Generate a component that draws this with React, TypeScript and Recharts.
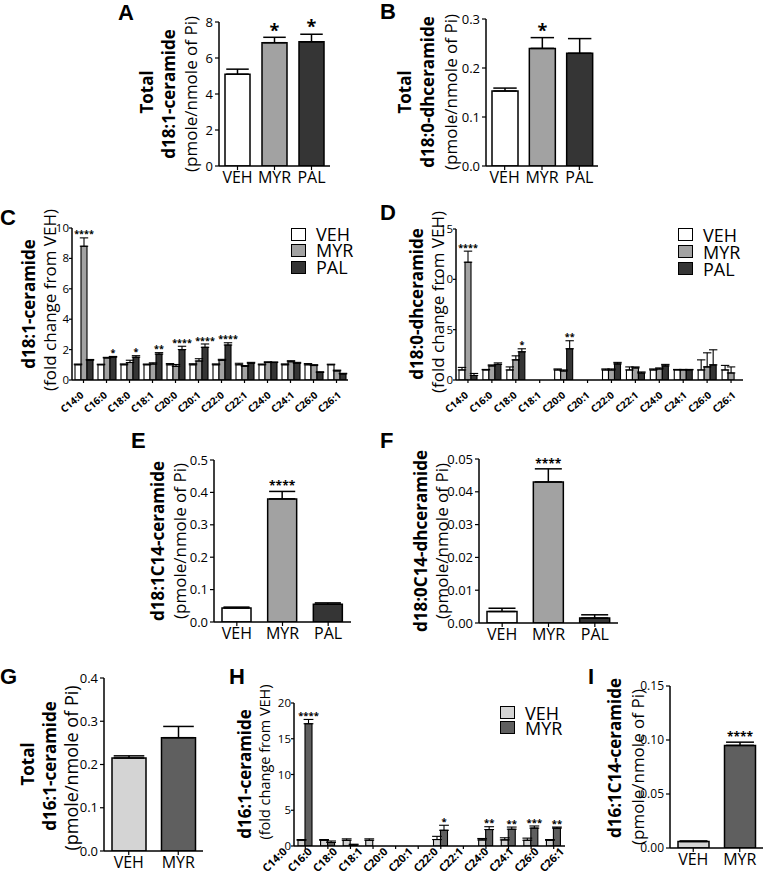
import React from "react";
import { BarChart, Bar, XAxis, YAxis, ErrorBar, LabelList, Cell } from "recharts";

const FONT = '"Open Sans", "DejaVu Sans", sans-serif';

const GROUPS3 = ["VEH", "MYR", "PAL"];
const GROUPS2 = ["VEH", "MYR"];
const CHAINS = ["C14:0", "C16:0", "C18:0", "C18:1", "C20:0", "C20:1", "C22:0", "C22:1", "C24:0", "C24:1", "C26:0", "C26:1"];

const COL3 = ["#ffffff", "#a2a2a2", "#353535"];
const COL2 = ["#d4d4d4", "#5f5f5f"];

// A - total d18:1-ceramide
const aMean = [5.1, 6.85, 6.9];
const aErr = [0.28, 0.3, 0.42];
const aStars = ["", "*", "*"];

// B - total d18:0-dhceramide
const bMean = [0.153, 0.24, 0.23];
const bErr = [0.006, 0.022, 0.03];
const bStars = ["", "*", ""];

// C - d18:1-ceramide fold change
const cVEH = [1.0, 1.0, 1.0, 1.0, 1.0, 1.0, 1.0, 1.0, 1.0, 1.0, 1.0, 1.0];
const cVEHErr = [0.05, 0.04, 0.06, 0.05, 0.08, 0.07, 0.06, 0.1, 0.05, 0.06, 0.08, 0.04];
const cMYR = [8.8, 1.45, 1.15, 1.05, 0.9, 1.25, 1.3, 0.9, 1.15, 1.2, 0.95, 0.6];
const cMYRErr = [0.55, 0.04, 0.15, 0.08, 0.12, 0.15, 0.06, 0.05, 0.05, 0.07, 0.06, 0.05];
const cPAL = [1.3, 1.5, 1.5, 1.7, 2.0, 2.15, 2.3, 1.1, 1.15, 1.1, 0.5, 0.4];
const cPALErr = [0.05, 0.05, 0.1, 0.1, 0.22, 0.22, 0.15, 0.06, 0.04, 0.06, 0.04, 0.04];
const cStarsMYR = ["****", "", "", "", "", "", "", "", "", "", "", ""];
const cStarsPAL = ["", "*", "*", "**", "****", "****", "****", "", "", "", "", ""];

// D - d18:0-dhceramide fold change
const dVEH = [1.0, 1.0, 1.0, null, 1.0, null, 1.0, 1.0, 1.0, 1.0, 1.0, 1.0];
const dVEHErr = [0.25, 0.05, 0.3, null, 0.1, null, 0.1, 0.3, 0.1, 0.05, 1.0, 0.45];
const dMYR = [11.7, 1.4, 2.0, null, 0.9, null, 1.0, 1.2, 1.1, 1.0, 1.3, 0.7];
const dMYRErr = [1.1, 0.1, 0.4, null, 0.1, null, 0.1, 0.1, 0.1, 0.05, 1.4, 0.6];
const dPAL = [0.45, 1.55, 2.8, null, 3.1, null, 1.6, 0.7, 1.4, 1.0, 1.5, null];
const dPALErr = [0.2, 0.15, 0.3, null, 0.8, null, 0.15, 0.1, 0.15, 0.05, 1.5, null];
const dStarsMYR = ["****", "", "", "", "", "", "", "", "", "", "", ""];
const dStarsPAL = ["", "", "*", "", "**", "", "", "", "", "", "", ""];

// E - d18:1C14-ceramide
const eMean = [0.043, 0.38, 0.055];
const eErr = [0.003, 0.023, 0.004];
const eStars = ["", "****", ""];

// F - d18:0C14-dhceramide
const fMean = [0.0035, 0.043, 0.0015];
const fErr = [0.001, 0.004, 0.001];
const fStars = ["", "****", ""];

// G - total d16:1-ceramide
const gMean = [0.215, 0.262];
const gErr = [0.005, 0.026];
const gStars = ["", ""];

// H - d16:1-ceramide fold change
const hVEH = [0.8, 0.8, 0.8, 0.8, null, null, 0.9, null, 0.85, 0.85, 0.8, 0.8];
const hVEHErr = [0.1, 0.1, 0.2, 0.2, null, null, 0.45, null, 0.2, 0.3, 0.3, 0.1];
const hMYR = [17.1, 0.5, 0.15, null, null, null, 2.2, null, 2.3, 2.35, 2.5, 2.5];
const hMYRErr = [0.6, 0.2, 0.1, null, null, null, 0.7, null, 0.4, 0.3, 0.3, 0.15];
const hStarsMYR = ["****", "", "", "", "", "", "*", "", "**", "**", "***", "**"];

// I - d16:1C14-ceramide
const iMean = [0.006, 0.095];
const iErr = [0.0005, 0.003];
const iStars = ["", "****"];

const YW = 45;
const MT = 28;
const MR = 6;

type Box = { ax: number; right: number; top: number; bottom: number };
type TickStyle = { size: number; angle: number; dx: number; dy: number; spread: number };

// star text sits above the error bar; value carries the star string and the error size
const starLabel = (pxPerUnit: number, size: number, gap: number) => (p: any) => {
  const vb = p.viewBox || p;
  const { x, y, width } = vb;
  const v = p.value;
  if (!v || !v.t || x == null || y == null) return null;
  return (
    <text x={x + width / 2} y={y - v.e * pxPerUnit - gap + size * 0.4} textAnchor="middle" fontSize={size} fontWeight={700} fontFamily={FONT} fill="#000">
      {v.t}
    </text>
  );
};

const angleTick = (ts: TickStyle) => (p: any) => {
  const { x, y, payload, index } = p;
  const i = typeof index === "number" ? index : 0;
  return (
    <g transform={`translate(${x + ts.dx + ts.spread * i},${y + ts.dy}) rotate(${-ts.angle})`}>
      <text x={0} y={0} dy="0.3em" textAnchor="end" fontSize={ts.size} fontWeight={700} fontFamily={FONT} fill="#000">
        {payload.value}
      </text>
    </g>
  );
};

const axisLine = { stroke: "#000", strokeWidth: 1.5 };
const tickLine = { stroke: "#000", strokeWidth: 1.2 };

function SimplePanel(props: {
  box: Box; cats: string[]; mean: number[]; err: number[]; stars: string[]; colors: string[];
  max: number; ticks: number[]; dec: number; barSize: number; starSize: number; starGap: number; tickFont?: number;
}) {
  const { box, cats, mean, err, stars, colors, max, ticks, dec, barSize, starSize, starGap, tickFont = 13 } = props;
  const plotH = box.bottom - box.top;
  const w = YW + (box.right - box.ax) + MR;
  const h = MT + plotH + 30;
  const data = cats.map((name, i) => ({ name, v: mean[i], e: [0, err[i]], s: stars[i] ? { t: stars[i], e: err[i] } : null }));
  return (
    <div style={{ position: "absolute", left: box.ax - YW, top: box.top - MT }}>
      <BarChart width={w} height={h} data={data} margin={{ top: MT, right: MR, left: 0, bottom: 0 }}>
        <XAxis dataKey="name" height={30} interval={0} axisLine={axisLine} tickLine={tickLine} tickSize={4}
          tick={{ fontSize: 16, fill: "#000", fontFamily: FONT }} />
        <YAxis width={YW} domain={[0, max]} ticks={ticks} allowDataOverflow axisLine={axisLine} tickLine={tickLine} tickSize={4}
          tick={{ fontSize: tickFont, fill: "#000", fontFamily: FONT }} tickFormatter={(v: number) => v.toFixed(dec)} />
        <Bar dataKey="v" barSize={barSize} stroke="#000" strokeWidth={1.5} isAnimationActive={false}>
          {data.map((_, i) => (
            <Cell key={i} fill={colors[i]} />
          ))}
          <ErrorBar dataKey="e" direction="y" width={barSize * 0.45} stroke="#000" strokeWidth={1.5} isAnimationActive={false} />
          <LabelList dataKey="s" content={starLabel(plotH / max, starSize, starGap)} />
        </Bar>
      </BarChart>
    </div>
  );
}

type Series = { key: string; values: (number | null)[]; errs: (number | null)[]; stars?: string[]; color: string };

function GroupPanel(props: {
  box: Box; series: Series[]; max: number; ticks: number[]; barSize: number; starSize: number; starGap: number; tickStyle: TickStyle;
}) {
  const { box, series, max, ticks, barSize, starSize, starGap, tickStyle } = props;
  const plotH = box.bottom - box.top;
  const w = YW + (box.right - box.ax) + MR;
  const h = MT + plotH + 45;
  const data = CHAINS.map((name, i) => {
    const row: any = { name };
    series.forEach((s) => {
      const e = s.errs[i];
      row[s.key] = s.values[i];
      row["e" + s.key] = e == null ? null : [0, e];
      row["s" + s.key] = s.stars && s.stars[i] ? { t: s.stars[i], e: e ?? 0 } : null;
    });
    return row;
  });
  return (
    <div style={{ position: "absolute", left: box.ax - YW, top: box.top - MT }}>
      <BarChart width={w} height={h} data={data} margin={{ top: MT, right: MR, left: 0, bottom: 0 }} barGap={0}>
        <XAxis dataKey="name" height={45} interval={0} axisLine={axisLine} tickLine={tickLine} tickSize={3} tick={angleTick(tickStyle)} />
        <YAxis width={YW} domain={[0, max]} ticks={ticks} allowDataOverflow axisLine={axisLine} tickLine={tickLine} tickSize={3} tickMargin={0}
          tick={{ fontSize: 11.5, fill: "#000", fontFamily: FONT }} />
        {series.map((s) => (
          <Bar key={s.key} dataKey={s.key} barSize={barSize} fill={s.color} stroke="#000" strokeWidth={1.1} isAnimationActive={false}>
            <ErrorBar dataKey={"e" + s.key} direction="y" width={barSize * 0.7} stroke="#000" strokeWidth={1.1} isAnimationActive={false} />
            <LabelList dataKey={"s" + s.key} content={starLabel(plotH / max, starSize, starGap)} />
          </Bar>
        ))}
      </BarChart>
    </div>
  );
}

function VLabel({ cx, cy, text, size, bold }: { cx: number; cy: number; text: string; size: number; bold?: boolean }) {
  return (
    <div style={{ position: "absolute", left: cx, top: cy, transform: "translate(-50%,-50%) rotate(-90deg)", whiteSpace: "nowrap",
      fontSize: size, fontWeight: bold ? 700 : 400, lineHeight: 1 }}>
      {text}
    </div>
  );
}

function Letter({ x, y, t }: { x: number; y: number; t: string }) {
  return (
    <div style={{ position: "absolute", left: x, top: y, fontSize: 22, fontWeight: 700, lineHeight: 1, fontFamily: '"Liberation Sans", Arial, sans-serif' }}>
      {t}
    </div>
  );
}

function Legend({ x, y, names, colors, size, box, step }: { x: number; y: number; names: string[]; colors: string[]; size: number; box: number; step: number }) {
  return (
    <div style={{ position: "absolute", left: x, top: y }}>
      {names.map((n, i) => (
        <div key={n} style={{ position: "absolute", left: 0, top: i * step, height: step, display: "flex", alignItems: "center", whiteSpace: "nowrap" }}>
          <div style={{ width: box, height: box * 0.85, background: colors[i], border: "1.5px solid #000", boxSizing: "border-box" }} />
          <span style={{ marginLeft: 10, fontSize: size, lineHeight: `${step - 1}px` }}>{n}</span>
        </div>
      ))}
    </div>
  );
}

const TICK_CD: TickStyle = { size: 10, angle: 40, dx: -1, dy: 9, spread: 0.4 };
const TICK_H: TickStyle = { size: 11, angle: 45, dx: -20, dy: -1, spread: 2.6 };

export default function App() {
  return (
    <div style={{ position: "absolute", left: 0, top: 0, width: 766, height: 878, background: "#fff", fontFamily: FONT, color: "#000", overflow: "hidden" }}>
      <Letter x={118} y={2} t="A" />
      <Letter x={380} y={1} t="B" />
      <Letter x={0} y={207} t="C" />
      <Letter x={380} y={202} t="D" />
      <Letter x={131} y={430} t="E" />
      <Letter x={380} y={430} t="F" />
      <Letter x={0} y={666} t="G" />
      <Letter x={229} y={666} t="H" />
      <Letter x={588} y={666} t="I" />

      <VLabel cx={146} cy={92} text="Total" size={17} bold />
      <VLabel cx={168} cy={94} text="d18:1-ceramide" size={17} bold />
      <VLabel cx={190} cy={94} text="(pmole/nmole of Pi)" size={17} />

      <VLabel cx={404} cy={92} text="Total" size={17} bold />
      <VLabel cx={427} cy={92} text="d18:0-dhceramide" size={17} bold />
      <VLabel cx={450} cy={92} text="(pmole/nmole of Pi)" size={17} />

      <VLabel cx={28} cy={304} text="d18:1-ceramide" size={17} bold />
      <VLabel cx={49} cy={300} text="(fold change from VEH)" size={17} />

      <VLabel cx={416} cy={304} text="d18:0-dhceramide" size={17} bold />
      <VLabel cx={437} cy={302} text="(fold change from VEH)" size={17} />

      <VLabel cx={157} cy={541} text="d18:1C14-ceramide" size={17} bold />
      <VLabel cx={179} cy={541} text="(pmole/nmole of Pi)" size={17} />

      <VLabel cx={420} cy={541} text="d18:0C14-dhceramide" size={17} bold />
      <VLabel cx={441} cy={541} text="(pmole/nmole of Pi)" size={17} />

      <VLabel cx={27} cy={764} text="Total" size={17} bold />
      <VLabel cx={49} cy={766} text="d16:1-ceramide" size={17} bold />
      <VLabel cx={71} cy={768} text="(pmole/nmole of Pi)" size={18} />

      <VLabel cx={244} cy={774} text="d16:1-ceramide" size={17} bold />
      <VLabel cx={265} cy={762} text="(fold change from VEH)" size={14.5} />

      <VLabel cx={614} cy={758} text="d16:1C14-ceramide" size={17} bold />
      <VLabel cx={637} cy={767} text="(pmole/nmole of Pi)" size={17} />

      <SimplePanel box={{ ax: 219, right: 330, top: 22, bottom: 166 }} cats={GROUPS3} mean={aMean} err={aErr} stars={aStars}
        colors={COL3} max={8} ticks={[0, 2, 4, 6, 8]} dec={0} barSize={25} starSize={18} starGap={8} />
      <SimplePanel box={{ ax: 486, right: 598, top: 19, bottom: 166 }} cats={GROUPS3} mean={bMean} err={bErr} stars={bStars}
        colors={COL3} max={0.3} ticks={[0, 0.1, 0.2, 0.3]} dec={1} barSize={26} starSize={18} starGap={8} />

      <GroupPanel box={{ ax: 72, right: 348, top: 228, bottom: 380 }} max={10} ticks={[0, 2, 4, 6, 8, 10]} barSize={6} starSize={9} starGap={4} tickStyle={TICK_CD}
        series={[
          { key: "VEH", values: cVEH, errs: cVEHErr, color: COL3[0] },
          { key: "MYR", values: cMYR, errs: cMYRErr, stars: cStarsMYR, color: COL3[1] },
          { key: "PAL", values: cPAL, errs: cPALErr, stars: cStarsPAL, color: COL3[2] },
        ]} />
      <GroupPanel box={{ ax: 456, right: 743, top: 229, bottom: 380 }} max={15} ticks={[0, 5, 10, 15]} barSize={6} starSize={9} starGap={4} tickStyle={TICK_CD}
        series={[
          { key: "VEH", values: dVEH, errs: dVEHErr, color: COL3[0] },
          { key: "MYR", values: dMYR, errs: dMYRErr, stars: dStarsMYR, color: COL3[1] },
          { key: "PAL", values: dPAL, errs: dPALErr, stars: dStarsPAL, color: COL3[2] },
        ]} />

      <SimplePanel box={{ ax: 214, right: 351, top: 460, bottom: 622 }} cats={GROUPS3} mean={eMean} err={eErr} stars={eStars}
        colors={COL3} max={0.5} ticks={[0, 0.1, 0.2, 0.3, 0.4, 0.5]} dec={1} barSize={29} starSize={12} starGap={6} />
      <SimplePanel box={{ ax: 479, right: 618, top: 459, bottom: 623 }} cats={GROUPS3} mean={fMean} err={fErr} stars={fStars}
        colors={COL3} max={0.05} ticks={[0, 0.01, 0.02, 0.03, 0.04, 0.05]} dec={2} barSize={30} starSize={12} starGap={6} />

      <SimplePanel box={{ ax: 104, right: 203, top: 678, bottom: 851 }} cats={GROUPS2} mean={gMean} err={gErr} stars={gStars}
        colors={COL2} max={0.4} ticks={[0, 0.1, 0.2, 0.3, 0.4]} dec={1} barSize={34} starSize={12} starGap={6} />
      <GroupPanel box={{ ax: 294, right: 565, top: 703, bottom: 846 }} max={20} ticks={[0, 5, 10, 15, 20]} barSize={7} starSize={9.5} starGap={4} tickStyle={TICK_H}
        series={[
          { key: "VEH", values: hVEH, errs: hVEHErr, color: COL2[0] },
          { key: "MYR", values: hMYR, errs: hMYRErr, stars: hStarsMYR, color: COL2[1] },
        ]} />
      <SimplePanel box={{ ax: 670, right: 763, top: 686, bottom: 848 }} cats={GROUPS2} mean={iMean} err={iErr} stars={iStars}
        colors={COL2} max={0.15} ticks={[0, 0.05, 0.1, 0.15]} dec={2} barSize={31} starSize={12} starGap={6} tickFont={12} />

      <Legend x={291} y={226} names={GROUPS3} colors={COL3} size={18} box={15} step={16.5} />
      <Legend x={678} y={226} names={GROUPS3} colors={COL3} size={18} box={15} step={17} />
      <Legend x={500} y={705} names={GROUPS2} colors={COL2} size={18} box={15} step={15} />
    </div>
  );
}
